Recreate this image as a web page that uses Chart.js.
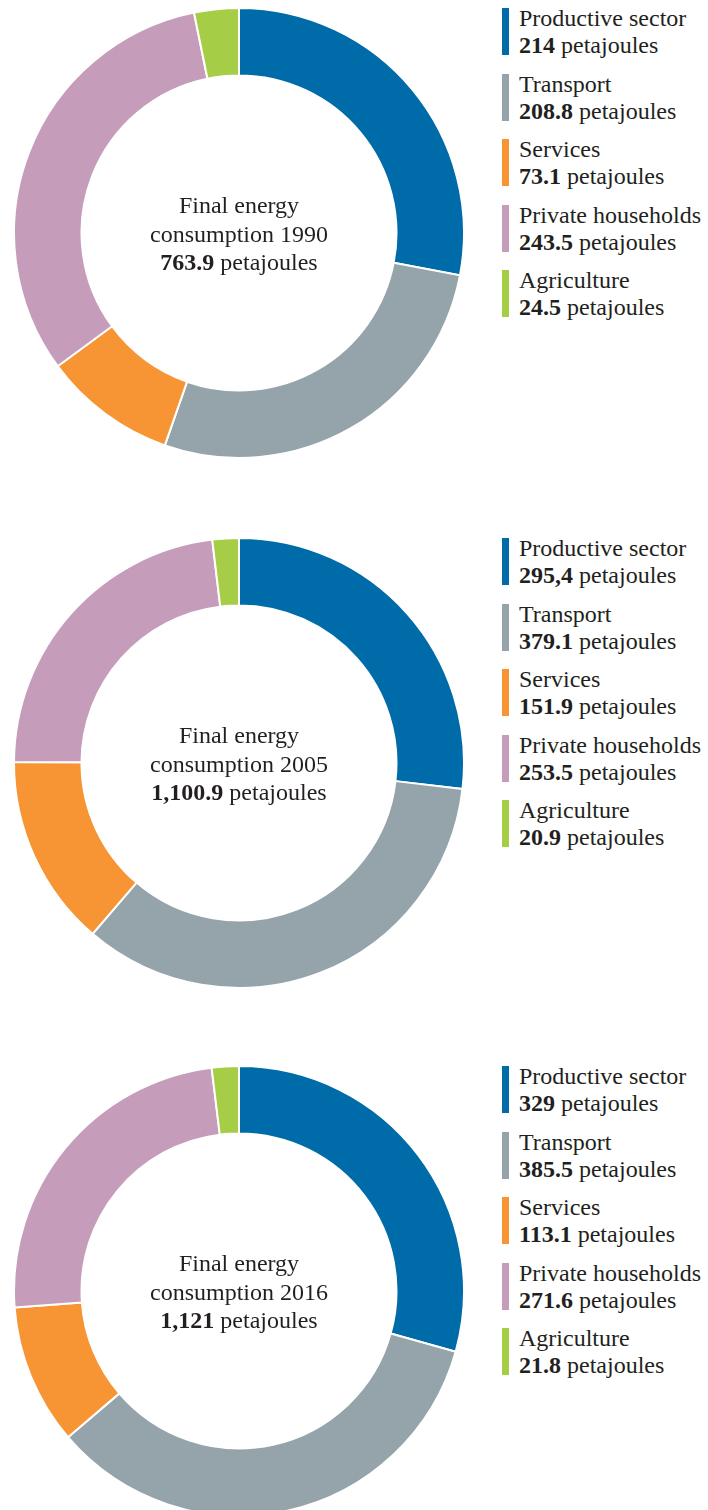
<!DOCTYPE html>
<html>
<head>
<meta charset="utf-8">
<script src="https://cdn.jsdelivr.net/npm/chart.js@4.4.0/dist/chart.umd.min.js"></script>
<style>
  html, body { margin: 0; padding: 0; background: #fff; }
  #page { position: relative; width: 708px; height: 1510px; overflow: hidden; background: #fff;
          font-family: "Liberation Serif", "DejaVu Serif", serif; color: #231f20; }
  canvas { position: absolute; }
  .bar { position: absolute; width: 7px; height: 47px; }
  .txt { position: absolute; font-size: 24px; line-height: 27px; white-space: nowrap; }
  .txt b { font-weight: bold; }
</style>
</head>
<body>
<div id="page"></div>
<script>
// ---- data ----
const categories = ['Productive sector', 'Transport', 'Services', 'Private households', 'Agriculture'];
const years = ['1990', '2005', '2016'];
const values1990 = [214, 208.8, 73.1, 243.5, 24.5];
const values2005 = [295.4, 379.1, 151.9, 253.5, 20.9];
const values2016 = [329, 385.5, 113.1, 271.6, 21.8];
const valueLabels1990 = ['214', '208.8', '73.1', '243.5', '24.5'];
const valueLabels2005 = ['295,4', '379.1', '151.9', '253.5', '20.9'];
const valueLabels2016 = ['329', '385.5', '113.1', '271.6', '21.8'];
const totalLabels = ['763.9', '1,100.9', '1,121'];
const unit = 'petajoules';
const colors = ['#006ba9', '#95a3aa', '#f79433', '#c59dba', '#a5cd45'];

// ---- layout ----
const seriesValues = [values1990, values2005, values2016];
const seriesLabels = [valueLabels1990, valueLabels2005, valueLabels2016];
const centersY = [233, 763, 1291];
const centerX = 239;
const radius = 225;
const page = document.getElementById('page');
const FONT = '"Liberation Serif", "DejaVu Serif", serif';

const centerTextPlugin = {
  id: 'centerText',
  afterDraw(chart, args, opts) {
    const arc = chart.getDatasetMeta(0).data[0];
    const cx = arc.x, cy = arc.y;
    const ctx = chart.ctx;
    ctx.save();
    ctx.fillStyle = '#231f20';
    ctx.textBaseline = 'alphabetic';
    ctx.textAlign = 'center';
    ctx.font = '24px ' + FONT;
    ctx.fillText('Final energy', cx, cy - 20);
    ctx.fillText('consumption ' + opts.year, cx, cy + 9);
    ctx.textAlign = 'left';
    ctx.font = 'bold 24px ' + FONT;
    const wb = ctx.measureText(opts.total).width;
    ctx.font = '24px ' + FONT;
    const wn = ctx.measureText(' ' + unit).width;
    let x = cx - (wb + wn) / 2;
    ctx.font = 'bold 24px ' + FONT;
    ctx.fillText(opts.total, x, cy + 37);
    ctx.font = '24px ' + FONT;
    ctx.fillText(' ' + unit, x + wb, cy + 37);
    ctx.restore();
  }
};

years.forEach((year, k) => {
  const size = 2 * radius + 2;
  const canvas = document.createElement('canvas');
  canvas.width = size; canvas.height = size;
  canvas.style.width = size + 'px'; canvas.style.height = size + 'px';
  canvas.style.left = (centerX - size / 2) + 'px';
  canvas.style.top = (centersY[k] - size / 2) + 'px';
  page.appendChild(canvas);

  new Chart(canvas, {
    type: 'doughnut',
    data: {
      labels: categories,
      datasets: [{
        data: seriesValues[k],
        backgroundColor: colors,
        borderColor: '#ffffff',
        borderWidth: 2,
        hoverOffset: 0,
        hoverBorderWidth: 2
      }]
    },
    options: {
      responsive: false,
      animation: false,
      events: [],
      cutout: '70%',
      layout: { padding: 0 },
      plugins: {
        legend: { display: false },
        tooltip: { enabled: false },
        centerText: { year: year, total: totalLabels[k] }
      }
    },
    plugins: [centerTextPlugin]
  });

  // legend
  const top0 = centersY[k] - radius;
  categories.forEach((cat, i) => {
    const t = top0 + i * 65.5;
    const bar = document.createElement('div');
    bar.className = 'bar';
    bar.style.left = '502px';
    bar.style.top = t + 'px';
    bar.style.background = colors[i];
    page.appendChild(bar);
    const txt = document.createElement('div');
    txt.className = 'txt';
    txt.style.left = '519px';
    txt.style.top = (t - 2.6) + 'px';
    txt.innerHTML = cat + '<br><b>' + seriesLabels[k][i] + '</b> ' + unit;
    page.appendChild(txt);
  });
});
</script>
</body>
</html>
